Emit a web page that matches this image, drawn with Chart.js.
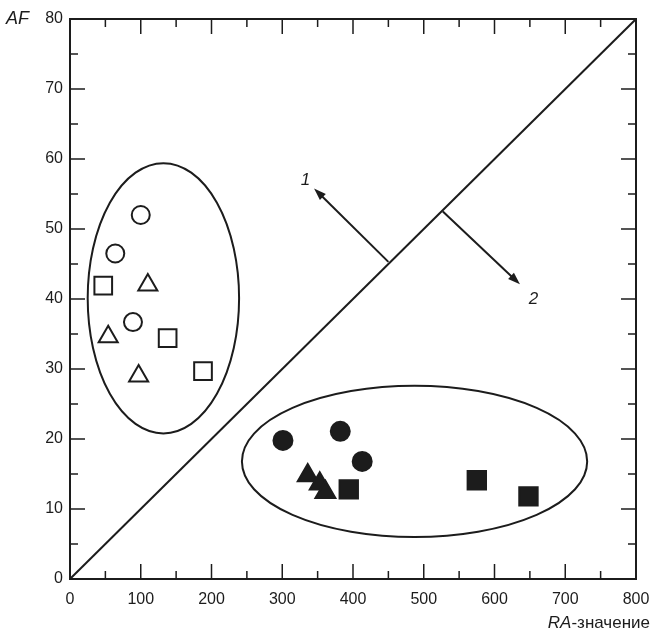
<!DOCTYPE html>
<html>
<head>
<meta charset="utf-8">
<script src="https://cdn.jsdelivr.net/npm/chart.js@4/dist/chart.umd.min.js"></script>
<style>
  html, body { margin: 0; padding: 0; background: #fff; }
  #wrap { width: 651px; height: 639px; }
</style>
</head>
<body>
<div id="wrap"><canvas id="chart" width="651" height="639"></canvas></div>
<script>
// === Data ===
// open markers (left group)
const openCircleRA = [100, 64, 89];
const openCircleAF = [52.0, 46.5, 36.7];
const openSquareRA = [47, 138, 188];
const openSquareAF = [41.9, 34.4, 29.7];
const openTriangleRA = [110, 54, 97];
const openTriangleAF = [42.0, 34.6, 29.0];

// filled markers (right group)
const fillCircleRA = [301, 382, 413];
const fillCircleAF = [19.8, 21.1, 16.8];
const fillTriangleRA = [336, 353, 361];
const fillTriangleAF = [14.8, 13.6, 12.4];
const fillSquareRA = [394, 575, 648];
const fillSquareAF = [12.8, 14.1, 11.8];

// separating line AF = RA / 10
const diagRA = [0, 800];
const diagAF = [0, 80];

// group ellipses: [centerRA, centerAF, halfRA, halfAF]
const leftGroup = [132, 40.1, 107, 19.3];
const rightGroup = [487, 16.8, 244, 10.8];

// arrows: [fromRA, fromAF, toRA, toAF], label, label position
const arrowFrom = [[450, 45.3], [527, 52.5]];
const arrowTo = [[345, 55.8], [636, 42.1]];
const arrowLabels = ["1", "2"];
const arrowLabelPos = [[333, 57.0], [655, 40.0]];

const xTicks = [0, 100, 200, 300, 400, 500, 600, 700, 800];
const yTicks = [0, 10, 20, 30, 40, 50, 60, 70, 80];

const INK = "#1c1c1c";
const FONT = "Arial, 'Liberation Sans', sans-serif";

const pts = (xs, ys) => xs.map((x, i) => ({ x: x, y: ys[i] }));

function markerSet(xs, ys, style, radius, filled) {
  return {
    data: pts(xs, ys),
    pointStyle: style,
    pointRadius: radius,
    pointHoverRadius: radius,
    pointBorderWidth: 2,
    pointBorderColor: INK,
    pointBackgroundColor: filled ? INK : "#fff",
    showLine: false
  };
}

// === Extra drawing: frame, inner ticks, ellipses, arrows, labels ===
const decor = {
  id: "decor",
  beforeDatasetsDraw(chart) {
    const { ctx, scales: { x, y } } = chart;
    ctx.save();
    ctx.strokeStyle = INK;
    ctx.lineWidth = 2;
    [leftGroup, rightGroup].forEach(g => {
      const cx = x.getPixelForValue(g[0]);
      const cy = y.getPixelForValue(g[1]);
      const rx = x.getPixelForValue(g[0] + g[2]) - cx;
      const ry = cy - y.getPixelForValue(g[1] + g[3]);
      ctx.beginPath();
      ctx.ellipse(cx, cy, rx, ry, 0, 0, Math.PI * 2);
      ctx.stroke();
    });
    ctx.restore();
  },
  afterDatasetsDraw(chart) {
    const { ctx, chartArea: a, scales: { x, y } } = chart;
    ctx.save();
    ctx.strokeStyle = INK;
    ctx.fillStyle = INK;

    // frame
    ctx.lineWidth = 2;
    ctx.strokeRect(a.left, a.top, a.right - a.left, a.bottom - a.top);

    // inward ticks on all four sides
    ctx.lineWidth = 1.5;
    ctx.beginPath();
    for (let v = 50; v < 800; v += 50) {
      const px = x.getPixelForValue(v);
      const len = v % 100 === 0 ? 15 : 8;
      ctx.moveTo(px, a.bottom); ctx.lineTo(px, a.bottom - len);
      ctx.moveTo(px, a.top); ctx.lineTo(px, a.top + len);
    }
    for (let v = 5; v < 80; v += 5) {
      const py = y.getPixelForValue(v);
      const len = v % 10 === 0 ? 15 : 8;
      ctx.moveTo(a.left, py); ctx.lineTo(a.left + len, py);
      ctx.moveTo(a.right, py); ctx.lineTo(a.right - len, py);
    }
    ctx.stroke();

    // arrows
    ctx.lineWidth = 2;
    arrowFrom.forEach((f, i) => {
      const x0 = x.getPixelForValue(f[0]), y0 = y.getPixelForValue(f[1]);
      const x1 = x.getPixelForValue(arrowTo[i][0]), y1 = y.getPixelForValue(arrowTo[i][1]);
      const ang = Math.atan2(y1 - y0, x1 - x0);
      const head = 13, spread = 0.33;
      ctx.beginPath();
      ctx.moveTo(x0, y0);
      ctx.lineTo(x1 - Math.cos(ang) * head * 0.8, y1 - Math.sin(ang) * head * 0.8);
      ctx.stroke();
      ctx.beginPath();
      ctx.moveTo(x1, y1);
      ctx.lineTo(x1 - head * Math.cos(ang - spread), y1 - head * Math.sin(ang - spread));
      ctx.lineTo(x1 - head * Math.cos(ang + spread), y1 - head * Math.sin(ang + spread));
      ctx.closePath();
      ctx.fill();

      ctx.font = "italic 17px " + FONT;
      ctx.textAlign = "center";
      ctx.textBaseline = "middle";
      ctx.fillText(arrowLabels[i], x.getPixelForValue(arrowLabelPos[i][0]), y.getPixelForValue(arrowLabelPos[i][1]));
    });

    // axis titles
    ctx.textBaseline = "middle";
    ctx.textAlign = "left";
    ctx.font = "italic 18px " + FONT;
    ctx.fillText("AF", 6, 19);

    ctx.textAlign = "right";
    ctx.font = "17px " + FONT;
    const rest = "-значение";
    const restW = ctx.measureText(rest).width;
    ctx.fillText(rest, 650, 623);
    ctx.font = "italic 17px " + FONT;
    ctx.fillText("RA", 650 - restW, 623);

    ctx.restore();
  }
};

new Chart(document.getElementById("chart").getContext("2d"), {
  type: "scatter",
  data: {
    datasets: [
      {
        data: pts(diagRA, diagAF),
        showLine: true,
        borderColor: INK,
        borderWidth: 2,
        pointRadius: 0,
        pointHoverRadius: 0
      },
      markerSet(openCircleRA, openCircleAF, "circle", 9, false),
      markerSet(openSquareRA, openSquareAF, "rect", 12.5, false),
      markerSet(openTriangleRA, openTriangleAF, "triangle", 11, false),
      markerSet(fillCircleRA, fillCircleAF, "circle", 9.5, true),
      markerSet(fillTriangleRA, fillTriangleAF, "triangle", 11.5, true),
      markerSet(fillSquareRA, fillSquareAF, "rect", 13, true)
    ]
  },
  options: {
    responsive: false,
    animation: false,
    events: [],
    layout: { padding: { top: 19, right: 14, left: 0, bottom: 0 } },
    plugins: {
      legend: { display: false },
      tooltip: { enabled: false }
    },
    scales: {
      x: {
        type: "linear",
        min: 0,
        max: 800,
        afterBuildTicks: s => { s.ticks = xTicks.map(v => ({ value: v })); },
        afterFit: s => { s.height = 60; s.paddingLeft = 0; s.paddingRight = 0; },
        grid: { display: false, drawTicks: false },
        border: { display: false },
        ticks: {
          color: INK,
          padding: 11,
          maxRotation: 0,
          font: { family: FONT, size: 16 }
        }
      },
      y: {
        type: "linear",
        min: 0,
        max: 80,
        afterBuildTicks: s => { s.ticks = yTicks.map(v => ({ value: v })); },
        afterFit: s => { s.width = 70; s.paddingTop = 0; s.paddingBottom = 0; },
        grid: { display: false, drawTicks: false },
        border: { display: false },
        ticks: {
          color: INK,
          padding: 7,
          font: { family: FONT, size: 16 }
        }
      }
    }
  },
  plugins: [decor]
});
</script>
</body>
</html>
